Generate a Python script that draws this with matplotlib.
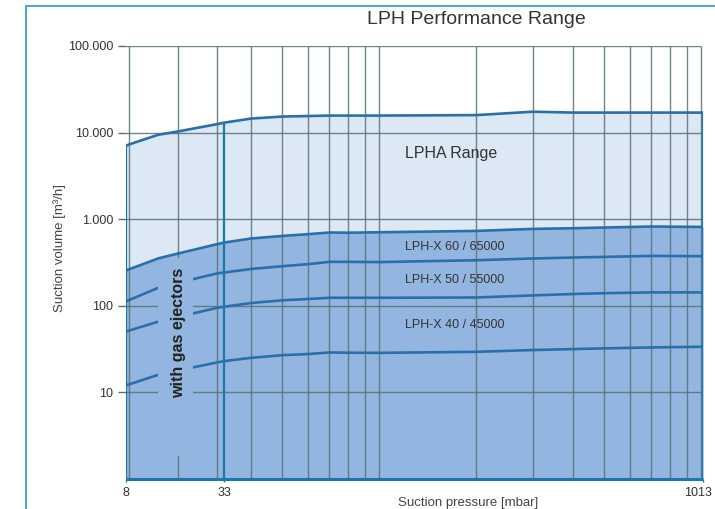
import numpy as np
import matplotlib
matplotlib.use("Agg")
import matplotlib.pyplot as plt
import matplotlib.transforms as mtransforms
from matplotlib.lines import Line2D
from matplotlib.ticker import FixedLocator, NullLocator

plt.rcParams['font.family'] = ['Liberation Sans', 'DejaVu Sans']

# data
pressure = [8, 10, 15, 20, 30, 33, 40, 50, 60, 70, 80, 100, 200, 300, 400, 500, 700, 1013]
lpha = [7000, 7300, 9400, 10300, 12500, 13000, 14500, 15300, 15500, 15700, 15700, 15700,
        15900, 17400, 17000, 17000, 17000, 17000]
lphx60 = [256, 263, 350, 400, 512, 535, 596, 638, 668, 699, 695, 703, 729, 769, 783, 798, 819, 811]
lphx50 = [112, 116, 160, 184, 235, 241, 265, 285, 301, 320, 320, 318, 334, 350, 359, 365, 375, 372]
lphx40 = [50, 51.5, 65, 74, 94, 97, 107, 115, 119, 123, 123, 123, 124, 131, 136, 139, 142, 142]
lphx40_min = [12, 12.3, 15.8, 17.8, 22, 22.8, 24.9, 26.7, 27.5, 28.7, 28.5, 28.4, 29.2, 30.6,
              31.4, 32, 32.8, 33.4]

grid_x = [10, 20, 30, 40, 50, 60, 70, 80, 90, 100, 200, 300, 400, 500, 600, 700, 800, 900, 1000]
grid_y = [10, 100, 1000, 10000, 100000]
ytick_labels = ['10', '100', '1.000', '10.000', '100.000']
xticks = [8, 33, 1013]

light = '#dde8f5'
mid = '#93b6e1'
curve_c = '#2a6faa'
edge_c = '#1b78ab'
grid_c = '#557178'

# x axis of the original: compressed below 33 mbar, logarithmic above
anchor_x = np.array([1e-3, 8, 10, 20, 30, 33, 1e5])
anchor_p = np.array([125.7 - 322 * (np.log10(8) + 3), 125.7, 129.3, 178.3, 217.0, 224.3,
                     224.3 + 322 * (5 - np.log10(33))])
anchor_lx = np.log10(anchor_x)


def fwd(x):
    x = np.clip(np.asarray(x, dtype=float), 1e-3, 1e5)
    return np.interp(np.log10(x), anchor_lx, anchor_p)


def inv(p):
    return 10 ** np.interp(np.asarray(p, dtype=float), anchor_p, anchor_lx)


fig = plt.figure(figsize=(7.15, 5.09), dpi=100)
ax = fig.add_axes([125.7 / 715, 30.4 / 509, 577.4 / 715, 432.6 / 509])
ax.set_xscale('function', functions=(fwd, inv))
ax.set_yscale('log')
ax.set_xlim(8, 1013)
ax.set_ylim(1, 1e5)

# filled ranges
ax.fill_between(pressure, 1, lpha, color=light, lw=0, zorder=1)
ax.fill_between(pressure, 1, lphx60, color=mid, lw=0, zorder=1.1)

# grid
ax.vlines(grid_x, 1, 1e5, colors=grid_c, lw=1.0, alpha=0.85, zorder=2)
ax.hlines(grid_y, 8, 1000, colors=grid_c, lw=1.0, alpha=0.85, zorder=2)

# curves
for s in (lphx50, lphx40, lphx40_min):
    ax.plot(pressure, s, color=curve_c, lw=1.9, zorder=3, solid_capstyle='butt')

# "with gas ejectors" area
ax.axvspan(15.06, 23.3, ymin=0.052, ymax=0.51, color=mid, lw=0, zorder=4)
ax.text(20, 48, 'with gas ejectors', rotation=90, ha='center', va='center',
        fontweight='bold', fontsize=11.5, color='#222222', zorder=6)

for s in (lpha, lphx60):
    ax.plot(pressure, s, color=curve_c, lw=1.9, zorder=5)

# range edges
i33 = pressure.index(33)
ax.vlines([pressure[0], pressure[i33], pressure[-1]], 1,
          [lpha[0], lpha[i33], lpha[-1]], colors=edge_c, lw=1.6, zorder=6)
ax.hlines(1, pressure[0], pressure[-1], colors=edge_c, lw=2.2, zorder=6, clip_on=False)

# range labels
ax.text(120, 5700, 'LPHA Range', fontsize=11.5, color='#333333', va='center', zorder=7)
ax.text(120, 476, 'LPH-X 60 / 65000', fontsize=9, color='#333333', va='center', zorder=7)
ax.text(120, 196, 'LPH-X 50 / 55000', fontsize=9, color='#333333', va='center', zorder=7)
ax.text(120, 59, 'LPH-X 40 / 45000', fontsize=9, color='#333333', va='center', zorder=7)

# axes styling
for sp in ax.spines.values():
    sp.set_visible(False)
ax.yaxis.set_major_locator(FixedLocator(grid_y))
ax.yaxis.set_minor_locator(NullLocator())
ax.set_yticklabels(ytick_labels)
ax.xaxis.set_major_locator(FixedLocator(xticks))
ax.xaxis.set_minor_locator(NullLocator())
ax.set_xticklabels([str(t) for t in xticks])
ax.tick_params(axis='y', length=6, width=1, color=grid_c, labelsize=9,
               labelcolor='#333333', pad=3)
ax.tick_params(axis='x', length=2, width=1, color=edge_c, labelsize=9,
               labelcolor='#333333', pad=4)

# keep the last x label inside the picture
last = ax.get_xticklabels()[-1]
last.set_horizontalalignment('right')
last.set_transform(last.get_transform() +
                   mtransforms.ScaledTranslation(9 / 100, 0, fig.dpi_scale_trans))

fig.text(60 / 715, 1 - 248.5 / 509, 'Suction volume [m³/h]', rotation=90,
         ha='center', va='center', fontsize=9.5, color='#444444')
fig.text(468 / 715, 1 - 503 / 509, 'Suction pressure [mbar]', ha='center', va='center',
         fontsize=9.5, color='#444444')
fig.text(476.5 / 715, 1 - 20 / 509, 'LPH Performance Range', ha='center', va='center',
         fontsize=14, color='#333333')

# page frame
fig.add_artist(Line2D([26 / 715, 26 / 715, 1.0], [0, 1 - 6 / 509, 1 - 6 / 509],
                      transform=fig.transFigure, color='#3b98d6', lw=1.3))

fig.savefig('out.png', dpi=100)
